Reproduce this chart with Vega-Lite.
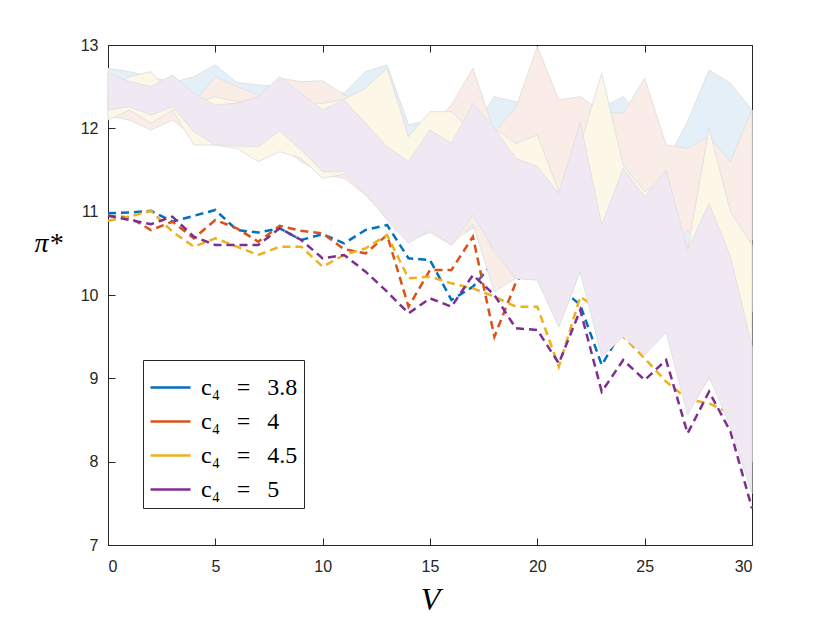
{
  "$schema": "https://vega.github.io/schema/vega-lite/v6.json",
  "width": 644,
  "height": 500,
  "autosize": {"type": "none"},
  "padding": {"left": 108, "top": 45, "right": 78, "bottom": 78},
  "background": "white",
  "config": {
    "view": {"stroke": "#262626", "strokeWidth": 1},
    "axis": {
      "grid": false,
      "labelFont": "Liberation Sans",
      "labelFontSize": 16,
      "labelColor": "#262626",
      "domainColor": "#262626",
      "tickColor": "#262626",
      "tickSize": -7,
      "zindex": 1
    }
  },
  "datasets": {
    "runs": [
      {"V": 0, "c4": "3.8", "pi": 10.98, "lo": 12.20, "hi": 12.72},
      {"V": 1, "c4": "3.8", "pi": 10.99, "lo": 12.10, "hi": 12.68},
      {"V": 2, "c4": "3.8", "pi": 11.01, "lo": 12.20, "hi": 12.62},
      {"V": 3, "c4": "3.8", "pi": 10.88, "lo": 12.10, "hi": 12.55},
      {"V": 4, "c4": "3.8", "pi": 10.95, "lo": 12.00, "hi": 12.62},
      {"V": 5, "c4": "3.8", "pi": 11.02, "lo": 11.90, "hi": 12.76},
      {"V": 6, "c4": "3.8", "pi": 10.78, "lo": 11.85, "hi": 12.55},
      {"V": 7, "c4": "3.8", "pi": 10.75, "lo": 11.75, "hi": 12.52},
      {"V": 8, "c4": "3.8", "pi": 10.80, "lo": 11.75, "hi": 12.50},
      {"V": 9, "c4": "3.8", "pi": 10.66, "lo": 11.65, "hi": 12.45},
      {"V": 10, "c4": "3.8", "pi": 10.73, "lo": 11.55, "hi": 12.50},
      {"V": 11, "c4": "3.8", "pi": 10.62, "lo": 11.45, "hi": 12.42},
      {"V": 12, "c4": "3.8", "pi": 10.78, "lo": 11.25, "hi": 12.68},
      {"V": 13, "c4": "3.8", "pi": 10.84, "lo": 11.00, "hi": 12.76},
      {"V": 14, "c4": "3.8", "pi": 10.44, "lo": 10.70, "hi": 12.04},
      {"V": 15, "c4": "3.8", "pi": 10.42, "lo": 10.80, "hi": 12.10},
      {"V": 16, "c4": "3.8", "pi": 9.94, "lo": 10.65, "hi": 12.05},
      {"V": 17, "c4": "3.8", "pi": 10.10, "lo": 10.80, "hi": 12.00},
      {"V": 18, "c4": "3.8", "pi": 10.40, "lo": 10.60, "hi": 12.38},
      {"V": 19, "c4": "3.8", "pi": 10.45, "lo": 10.40, "hi": 12.32},
      {"V": 20, "c4": "3.8", "pi": 10.35, "lo": 10.30, "hi": 12.30},
      {"V": 21, "c4": "3.8", "pi": 10.10, "lo": 10.00, "hi": 12.10},
      {"V": 22, "c4": "3.8", "pi": 9.88, "lo": 10.30, "hi": 12.10},
      {"V": 23, "c4": "3.8", "pi": 9.16, "lo": 9.40, "hi": 12.25},
      {"V": 24, "c4": "3.8", "pi": 9.60, "lo": 9.70, "hi": 12.38},
      {"V": 25, "c4": "3.8", "pi": 9.70, "lo": 9.60, "hi": 12.10},
      {"V": 26, "c4": "3.8", "pi": 9.90, "lo": 9.80, "hi": 11.60},
      {"V": 27, "c4": "3.8", "pi": 10.20, "lo": 9.80, "hi": 12.08},
      {"V": 28, "c4": "3.8", "pi": 10.50, "lo": 10.20, "hi": 12.70},
      {"V": 29, "c4": "3.8", "pi": 10.70, "lo": 10.00, "hi": 12.54},
      {"V": 30, "c4": "3.8", "pi": 10.90, "lo": 9.80, "hi": 12.22},

      {"V": 0, "c4": "4", "pi": 10.95, "lo": 12.15, "hi": 12.55},
      {"V": 1, "c4": "4", "pi": 10.93, "lo": 12.10, "hi": 12.50},
      {"V": 2, "c4": "4", "pi": 10.78, "lo": 11.98, "hi": 12.45},
      {"V": 3, "c4": "4", "pi": 10.88, "lo": 12.10, "hi": 12.50},
      {"V": 4, "c4": "4", "pi": 10.68, "lo": 11.90, "hi": 12.30},
      {"V": 5, "c4": "4", "pi": 10.90, "lo": 11.85, "hi": 12.62},
      {"V": 6, "c4": "4", "pi": 10.80, "lo": 11.80, "hi": 12.50},
      {"V": 7, "c4": "4", "pi": 10.64, "lo": 11.70, "hi": 12.40},
      {"V": 8, "c4": "4", "pi": 10.83, "lo": 11.80, "hi": 12.60},
      {"V": 9, "c4": "4", "pi": 10.77, "lo": 11.60, "hi": 12.56},
      {"V": 10, "c4": "4", "pi": 10.74, "lo": 11.45, "hi": 12.57},
      {"V": 11, "c4": "4", "pi": 10.55, "lo": 11.40, "hi": 12.40},
      {"V": 12, "c4": "4", "pi": 10.50, "lo": 11.20, "hi": 12.30},
      {"V": 13, "c4": "4", "pi": 10.72, "lo": 10.92, "hi": 12.40},
      {"V": 14, "c4": "4", "pi": 9.86, "lo": 10.65, "hi": 11.90},
      {"V": 15, "c4": "4", "pi": 10.30, "lo": 10.75, "hi": 12.00},
      {"V": 16, "c4": "4", "pi": 10.30, "lo": 10.60, "hi": 12.28},
      {"V": 17, "c4": "4", "pi": 10.70, "lo": 10.85, "hi": 12.72},
      {"V": 18, "c4": "4", "pi": 9.50, "lo": 10.04, "hi": 11.95},
      {"V": 19, "c4": "4", "pi": 10.15, "lo": 10.20, "hi": 12.25},
      {"V": 20, "c4": "4", "pi": 10.50, "lo": 10.60, "hi": 12.98},
      {"V": 21, "c4": "4", "pi": 10.80, "lo": 11.22, "hi": 12.34},
      {"V": 22, "c4": "4", "pi": 10.70, "lo": 10.60, "hi": 12.38},
      {"V": 23, "c4": "4", "pi": 10.50, "lo": 10.20, "hi": 12.20},
      {"V": 24, "c4": "4", "pi": 10.40, "lo": 10.50, "hi": 12.18},
      {"V": 25, "c4": "4", "pi": 10.60, "lo": 10.30, "hi": 12.60},
      {"V": 26, "c4": "4", "pi": 10.50, "lo": 10.50, "hi": 11.80},
      {"V": 27, "c4": "4", "pi": 10.60, "lo": 10.78, "hi": 11.76},
      {"V": 28, "c4": "4", "pi": 10.50, "lo": 10.50, "hi": 11.90},
      {"V": 29, "c4": "4", "pi": 10.60, "lo": 10.56, "hi": 11.60},
      {"V": 30, "c4": "4", "pi": 11.00, "lo": 10.66, "hi": 12.22},

      {"V": 0, "c4": "4.5", "pi": 10.89, "lo": 12.10, "hi": 12.45},
      {"V": 1, "c4": "4.5", "pi": 10.94, "lo": 12.22, "hi": 12.62},
      {"V": 2, "c4": "4.5", "pi": 11.01, "lo": 12.06, "hi": 12.68},
      {"V": 3, "c4": "4.5", "pi": 10.76, "lo": 12.22, "hi": 12.40},
      {"V": 4, "c4": "4.5", "pi": 10.58, "lo": 11.80, "hi": 12.30},
      {"V": 5, "c4": "4.5", "pi": 10.68, "lo": 11.80, "hi": 12.38},
      {"V": 6, "c4": "4.5", "pi": 10.58, "lo": 11.76, "hi": 12.32},
      {"V": 7, "c4": "4.5", "pi": 10.48, "lo": 11.60, "hi": 12.30},
      {"V": 8, "c4": "4.5", "pi": 10.58, "lo": 11.72, "hi": 12.35},
      {"V": 9, "c4": "4.5", "pi": 10.58, "lo": 11.64, "hi": 12.30},
      {"V": 10, "c4": "4.5", "pi": 10.34, "lo": 11.40, "hi": 12.30},
      {"V": 11, "c4": "4.5", "pi": 10.48, "lo": 11.45, "hi": 12.35},
      {"V": 12, "c4": "4.5", "pi": 10.56, "lo": 11.20, "hi": 12.48},
      {"V": 13, "c4": "4.5", "pi": 10.72, "lo": 10.95, "hi": 12.72},
      {"V": 14, "c4": "4.5", "pi": 10.20, "lo": 10.66, "hi": 11.90},
      {"V": 15, "c4": "4.5", "pi": 10.22, "lo": 10.80, "hi": 12.20},
      {"V": 16, "c4": "4.5", "pi": 10.14, "lo": 10.62, "hi": 12.20},
      {"V": 17, "c4": "4.5", "pi": 10.08, "lo": 11.02, "hi": 11.95},
      {"V": 18, "c4": "4.5", "pi": 9.98, "lo": 10.50, "hi": 12.00},
      {"V": 19, "c4": "4.5", "pi": 9.86, "lo": 10.20, "hi": 11.82},
      {"V": 20, "c4": "4.5", "pi": 9.86, "lo": 10.18, "hi": 11.92},
      {"V": 21, "c4": "4.5", "pi": 9.14, "lo": 9.62, "hi": 11.24},
      {"V": 22, "c4": "4.5", "pi": 9.98, "lo": 10.28, "hi": 11.80},
      {"V": 23, "c4": "4.5", "pi": 9.80, "lo": 9.30, "hi": 12.66},
      {"V": 24, "c4": "4.5", "pi": 9.50, "lo": 9.52, "hi": 11.56},
      {"V": 25, "c4": "4.5", "pi": 9.24, "lo": 9.30, "hi": 11.24},
      {"V": 26, "c4": "4.5", "pi": 8.96, "lo": 9.62, "hi": 11.40},
      {"V": 27, "c4": "4.5", "pi": 8.75, "lo": 8.60, "hi": 10.54},
      {"V": 28, "c4": "4.5", "pi": 8.70, "lo": 9.00, "hi": 12.00},
      {"V": 29, "c4": "4.5", "pi": 8.58, "lo": 8.60, "hi": 11.00},
      {"V": 30, "c4": "4.5", "pi": 8.50, "lo": 8.00, "hi": 10.60},

      {"V": 0, "c4": "5", "pi": 10.95, "lo": 12.22, "hi": 12.66},
      {"V": 1, "c4": "5", "pi": 10.90, "lo": 12.26, "hi": 12.56},
      {"V": 2, "c4": "5", "pi": 10.85, "lo": 12.16, "hi": 12.50},
      {"V": 3, "c4": "5", "pi": 10.94, "lo": 12.26, "hi": 12.64},
      {"V": 4, "c4": "5", "pi": 10.70, "lo": 11.96, "hi": 12.42},
      {"V": 5, "c4": "5", "pi": 10.60, "lo": 11.80, "hi": 12.28},
      {"V": 6, "c4": "5", "pi": 10.60, "lo": 11.79, "hi": 12.30},
      {"V": 7, "c4": "5", "pi": 10.60, "lo": 11.78, "hi": 12.38},
      {"V": 8, "c4": "5", "pi": 10.80, "lo": 11.97, "hi": 12.62},
      {"V": 9, "c4": "5", "pi": 10.66, "lo": 11.74, "hi": 12.42},
      {"V": 10, "c4": "5", "pi": 10.44, "lo": 11.48, "hi": 12.22},
      {"V": 11, "c4": "5", "pi": 10.48, "lo": 11.48, "hi": 12.34},
      {"V": 12, "c4": "5", "pi": 10.28, "lo": 11.22, "hi": 12.06},
      {"V": 13, "c4": "5", "pi": 10.04, "lo": 10.90, "hi": 11.78},
      {"V": 14, "c4": "5", "pi": 9.78, "lo": 10.62, "hi": 11.60},
      {"V": 15, "c4": "5", "pi": 9.96, "lo": 10.78, "hi": 11.98},
      {"V": 16, "c4": "5", "pi": 9.86, "lo": 10.60, "hi": 11.82},
      {"V": 17, "c4": "5", "pi": 10.24, "lo": 10.96, "hi": 12.30},
      {"V": 18, "c4": "5", "pi": 10.00, "lo": 10.54, "hi": 12.00},
      {"V": 19, "c4": "5", "pi": 9.60, "lo": 10.20, "hi": 11.64},
      {"V": 20, "c4": "5", "pi": 9.58, "lo": 10.18, "hi": 11.54},
      {"V": 21, "c4": "5", "pi": 9.18, "lo": 9.62, "hi": 11.22},
      {"V": 22, "c4": "5", "pi": 9.82, "lo": 10.28, "hi": 12.08},
      {"V": 23, "c4": "5", "pi": 8.84, "lo": 9.26, "hi": 10.84},
      {"V": 24, "c4": "5", "pi": 9.22, "lo": 9.50, "hi": 11.52},
      {"V": 25, "c4": "5", "pi": 8.98, "lo": 9.28, "hi": 11.18},
      {"V": 26, "c4": "5", "pi": 9.22, "lo": 9.55, "hi": 11.50},
      {"V": 27, "c4": "5", "pi": 8.34, "lo": 8.56, "hi": 10.54},
      {"V": 28, "c4": "5", "pi": 8.84, "lo": 9.02, "hi": 11.10},
      {"V": 29, "c4": "5", "pi": 8.36, "lo": 8.42, "hi": 10.46},
      {"V": 30, "c4": "5", "pi": 7.44, "lo": 7.62, "hi": 9.38}
    ]
  },
  "data": {"name": "runs"},
  "layer": [
    {
      "mark": {"type": "line", "strokeDash": [8, 5], "strokeWidth": 2.5},
      "encoding": {
        "x": {
          "field": "V", "type": "quantitative",
          "scale": {"domain": [0, 30], "nice": false},
          "axis": {"values": [0, 5, 10, 15, 20, 25, 30], "labelPadding": 20, "title": "V",
                   "titleFont": "Liberation Serif", "titleFontStyle": "italic", "titleFontWeight": "normal",
                   "titleFontSize": 32, "titleColor": "#000000", "titleX": 322, "titleY": 54,
                   "titleBaseline": "middle"}
        },
        "y": {
          "field": "pi", "type": "quantitative",
          "scale": {"domain": [7, 13], "nice": false, "zero": false},
          "axis": {"values": [7, 8, 9, 10, 11, 12, 13], "labelPadding": 17, "title": "π*",
                   "titleFont": "Liberation Serif", "titleFontStyle": "italic", "titleFontWeight": "normal",
                   "titleFontSize": 28, "titleColor": "#000000", "titleAngle": 0,
                   "titleX": -60, "titleY": 198, "titleAlign": "center", "titleBaseline": "middle"}
        },
        "stroke": {
          "field": "c4", "type": "nominal",
          "scale": {"domain": ["3.8", "4", "4.5", "5"], "range": ["#0072BD", "#D95319", "#EDB120", "#7E2F8E"]},
          "legend": {
            "title": null, "orient": "none", "legendX": 35, "legendY": 315,
            "labelExpr": "'c₄\u2002\u2009=\u2002\u2009' + datum.label",
            "labelFont": "Liberation Serif", "labelFontSize": 24, "labelColor": "#000000",
            "symbolType": "stroke", "symbolSize": 1600, "symbolStrokeWidth": 2.5,
            "symbolDash": [1, 0], "labelOffset": 9, "rowPadding": 0,
            "fillColor": "white", "strokeColor": "#262626", "padding": 6
          }
        }
      }
    },
    {
      "mark": {"type": "area", "stroke": "#E2E2E2", "strokeWidth": 1, "opacity": 1},
      "encoding": {
        "x": {"field": "V", "type": "quantitative",
              "axis": {"orient": "top", "values": [0, 5, 10, 15, 20, 25, 30], "labels": false, "title": null}},
        "y": {"field": "hi", "type": "quantitative",
              "axis": {"orient": "right", "values": [7, 8, 9, 10, 11, 12, 13], "labels": false, "title": null}},
        "y2": {"field": "lo"},
        "fill": {
          "field": "c4", "type": "nominal",
          "scale": {"domain": ["3.8", "4", "4.5", "5"], "range": ["#E4EFF8", "#FAEDE8", "#FDF7E8", "#F0E9F4"]},
          "legend": null
        }
      }
    }
  ],
  "resolve": {"axis": {"x": "independent", "y": "independent"}}
}
